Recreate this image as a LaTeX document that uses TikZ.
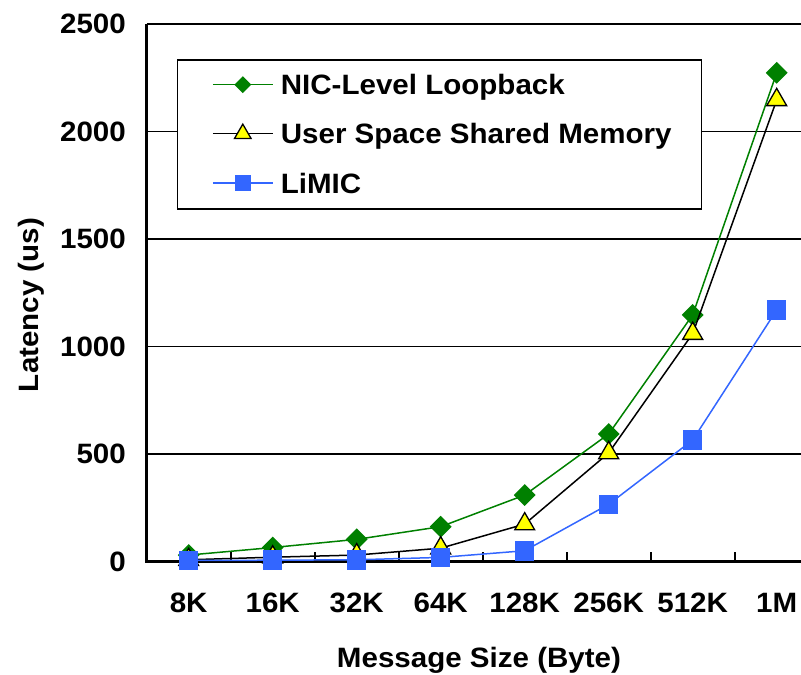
\documentclass[tikz,border=0pt]{standalone}
\usepackage{fontspec}
\setmainfont[FakeStretch=1.055]{Liberation Sans}
\usetikzlibrary{shapes.geometric}
\definecolor{LoopGreen}{RGB}{0,128,0}
\definecolor{LimicBlue}{RGB}{51,102,255}
\definecolor{MarkYellow}{RGB}{255,255,0}
\tikzset{
  chartfont/.style={font=\fontsize{28}{32}\selectfont\bfseries},
  niclink/.style={LoopGreen,line width=1.5pt},
  shmlink/.style={black,line width=1.5pt},
  limlink/.style={LimicBlue,line width=1.5pt},
  nicmark/.style={diamond,aspect=1,fill=LoopGreen,inner sep=0pt,minimum size=22pt},
  shmmark/.style={regular polygon,regular polygon sides=3,draw=black,line width=1.3pt,
    fill=MarkYellow,inner sep=0pt,minimum size=23pt},
  limmark/.style={rectangle,fill=LimicBlue,inner sep=0pt,minimum size=19.5pt},
  gridline/.style={line width=1.6pt},
}

\begin{document}
\begin{tikzpicture}[x=84pt,y=0.215pt]
      \useasboundingbox (-146.7pt,-113.5pt) rectangle (654.3pt,561.5pt);
      % grid and frame
      \foreach \v in {500,1000,1500,2000,2500}
        \draw[gridline] (0,\v) -- (7.8,\v);
      \draw[line width=2.4pt] (0,2500) -- (0,0) -- (7.8,0);
      \foreach \i in {1,...,7}
        \draw[line width=1.8pt] (\i,0) -- (\i,42);
      % axis labels
      \foreach \v in {0,500,1000,1500,2000,2500}
        \node[chartfont,anchor=east,inner sep=0pt] (ylab\v) at (-0.246,\v) {\v};
      \foreach \s [count=\i] in {8K,16K,32K,64K,128K,256K,512K,1M}
        \node[chartfont,inner sep=0pt] (xlab\i) at (\i-0.5,-194) {\s};
      \node[chartfont,anchor=base,inner sep=0pt] (xtitle) at (3.956,-495) {Message Size (Byte)};
      \node[chartfont,rotate=90,inner sep=0pt] (ytitle) at (-1.377,1193) {Latency (us)};
      % legend
      \draw[fill=white,line width=1.5pt] (0.369,2332.6) rectangle (6.607,1639.5);
      \draw[niclink] (0.789,2218) -- (1.5,2218);
      \node[nicmark,minimum size=17pt] (legnic) at (1.144,2218) {};
      \draw[shmlink] (0.789,1990) -- (1.5,1990);
      \node[shmmark,minimum size=19pt] (legshm) at (1.144,1990) {};
      \draw[limlink] (0.789,1760) -- (1.5,1760);
      \node[limmark,minimum size=16pt] (leglim) at (1.144,1760) {};
      \node[chartfont,anchor=west,inner sep=0pt,text height=20pt,text depth=0pt]
        (legnictext) at (1.595,2218) {NIC-Level Loopback};
      \node[chartfont,anchor=west,inner sep=0pt,text height=20pt,text depth=0pt]
        (legshmtext) at (1.595,1990) {User Space Shared Memory};
      \node[chartfont,anchor=west,inner sep=0pt,text height=20pt,text depth=0pt]
        (leglimtext) at (1.595,1760) {LiMIC};
      % data points
      \foreach \v [count=\i] in {30,65,103,162,309,593,1147,2273}
        \coordinate (nic\i) at (\i-0.5,\v);
      \foreach \v [count=\i] in {8,20,30,62,174,505,1060,2147}
        \coordinate (shm\i) at (\i-0.5,\v);
      \foreach \v [count=\i] in {5,6,8,19,50,266,565,1170}
        \coordinate (lim\i) at (\i-0.5,\v);
      % series
      \draw[niclink] (nic1) \foreach \i in {2,...,8} {-- (nic\i)};
      \foreach \i in {1,...,8}
        \node[nicmark] (nicm\i) at (nic\i) {};
      \draw[shmlink] (shm1) \foreach \i in {2,...,8} {-- (shm\i)};
      \foreach \i in {1,...,8}
        \node[shmmark] (shmm\i) at (shm\i) {};
      \draw[limlink] (lim1) \foreach \i in {2,...,8} {-- (lim\i)};
      \foreach \i in {1,...,8}
        \node[limmark] (limm\i) at (lim\i) {};
    \end{tikzpicture}
\end{document}
